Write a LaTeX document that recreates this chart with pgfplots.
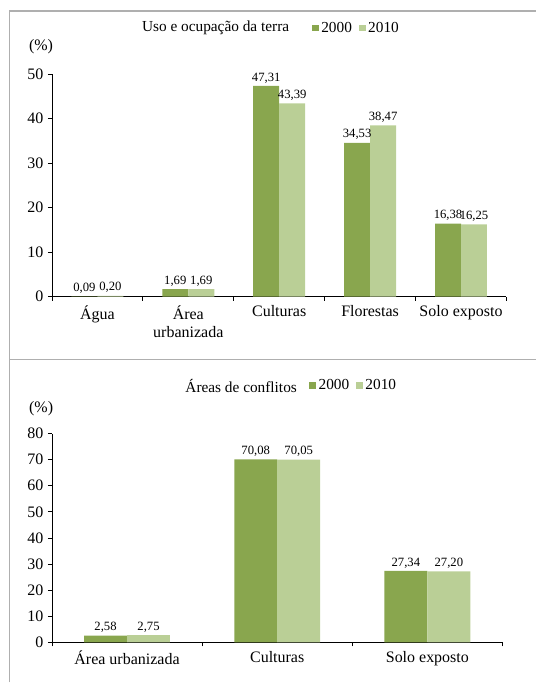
\documentclass[border=0pt]{standalone}
\usepackage{fontspec}
\setmainfont{Liberation Serif}
\usepackage{pgfplots}
\pgfplotsset{compat=1.18}

\definecolor{g00}{RGB}{137,166,78}
\definecolor{g10}{RGB}{186,207,150}
\definecolor{framegray}{RGB}{175,175,175}

\pgfplotsset{
  panel/.style={
    scale only axis, clip=false,
    axis lines=left, axis line style={-, line width=0.6pt},
    ymin=0, enlargelimits=false,
    tick align=outside, major tick length=3pt, minor tick length=3pt,
    tick style={black, line width=0.6pt},
    major x tick style={draw=none},
    ybar=0pt,
    ticklabel style={font=\fontsize{12}{14}\selectfont},
    xticklabel style={align=center},
    /pgf/number format/assume math mode=true,
    nodes near coords={\pgfmathprintnumber[fixed,fixed zerofill,precision=2,use comma]{\pgfplotspointmeta}},
    every node near coord/.append style={font=\fontsize{9.5}{11}\selectfont, inner sep=2pt},
    legend columns=-1,
    legend image code/.code={\fill[#1] (0pt,-2.6pt) rectangle (5.2pt,2.6pt);},
    legend style={draw=none, fill=none, inner sep=0pt, anchor=west,
      font=\fontsize{11.5}{13}\selectfont,
      /tikz/every even column/.append style={column sep=3pt}},
    ylabel={(\%)},
    ylabel style={rotate=-90, anchor=center, font=\fontsize{12}{14}\selectfont},
  },
  s00/.style={fill=g00, draw=none},
  s10/.style={fill=g10, draw=none},
}

\begin{document}
\begin{tikzpicture}
  % page size and frame (1 px of the reference = 0.75pt)
  \path (0,0) rectangle (402.75pt,512.25pt);
  \draw[framegray, line width=1.1pt] (7.1pt,0pt) -- (7.1pt,504pt) -- (402.75pt,504pt);
  \draw[framegray, line width=1.1pt] (7.1pt,242.25pt) -- (402.75pt,242.25pt);

  % top panel
  \begin{axis}[panel,
    at={(39pt,289.5pt)}, anchor=south west,
    width=341.25pt, height=167.25pt,
    xmin=-0.5, xmax=4.5, ymax=50,
    ytick={0,10,...,50},
    xtick={0,...,4},
    xticklabels={Água, Área\\urbanizada, Culturas, Florestas, Solo exposto},
    minor xtick={-0.5,0.5,...,4.5},
    bar width=19.5pt,
    ylabel style={at={(axis description cs:-0.024,1.121)}},
    legend style={at={(axis description cs:0.571,1.206)}},
  ]
    \addplot[s00] coordinates {(0,0.09) (1,1.69) (2,47.31) (3,34.53) (4,16.38)};
    \addplot[s10] coordinates {(0,0.20) (1,1.69) (2,43.39) (3,38.47) (4,16.25)};
    \legend{2000,2010}
    \node[font=\fontsize{11.5}{13}\selectfont] at (axis description cs:0.360,1.206) {Uso e ocupação da terra};
  \end{axis}

  % bottom panel
  \begin{axis}[panel,
    at={(39pt,30pt)}, anchor=south west,
    width=338.25pt, height=156.75pt,
    xmin=-0.5, xmax=2.5, ymax=80,
    ytick={0,10,...,80},
    xtick={0,1,2},
    xticklabels={Área urbanizada, Culturas, Solo exposto},
    minor xtick={-0.5,0.5,...,2.5},
    bar width=32.25pt,
    ylabel style={at={(axis description cs:-0.024,1.120)}},
    legend style={at={(axis description cs:0.570,1.230)}},
  ]
    \addplot[s00] coordinates {(0,2.58) (1,70.08) (2,27.34)};
    \addplot[s10] coordinates {(0,2.75) (1,70.05) (2,27.20)};
    \legend{2000,2010}
    \node[font=\fontsize{11.5}{13}\selectfont] at (axis description cs:0.420,1.230) {Áreas de conflitos};
  \end{axis}
\end{tikzpicture}
\end{document}
